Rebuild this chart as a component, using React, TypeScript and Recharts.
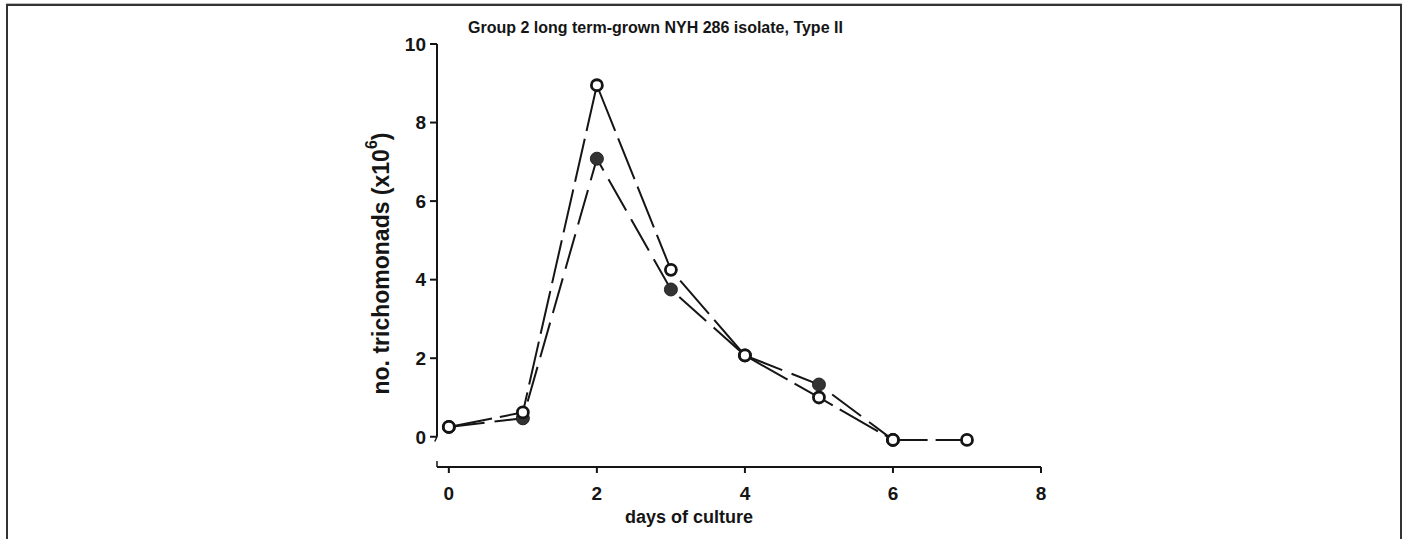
import React from 'react';
import { LineChart, Line, XAxis, YAxis, ReferenceLine } from 'recharts';

const days = [0, 1, 2, 3, 4, 5, 6, 7];
const openValues = [0.25, 0.62, 8.95, 4.25, 2.07, 1.0, -0.08, -0.08];
const filledValues: (number | null)[] = [0.25, 0.47, 7.08, 3.75, 2.07, 1.33, -0.08, null];
const xTicks = [0, 2, 4, 6, 8];
const yTicks = [0, 2, 4, 6, 8, 10];
const X_MIN = -0.16;
const Y_MIN = -0.77;

const data = days.map((d, i) => ({ day: d, open: openValues[i], filled: filledValues[i] }));

const FONT = '"Liberation Sans", Arial, sans-serif';
const INK = '#151515';

const YLabel = (props: any) => {
  const vb = props.viewBox || {};
  const cx = vb.x + 4;
  const cy = vb.y + vb.height / 2 + 8;
  return (
    <text
      x={cx}
      y={cy}
      transform={`rotate(-90, ${cx}, ${cy})`}
      textAnchor="middle"
      dominantBaseline="central"
      fontFamily={FONT}
      fontWeight="bold"
      fontSize={23}
      fill={INK}
    >
      no. trichomonads (x10
      <tspan dy={-10} fontSize={16}>6</tspan>
      <tspan dy={10}>)</tspan>
    </text>
  );
};

const XLabel = (props: any) => {
  const vb = props.viewBox || {};
  const cx = vb.x + vb.width / 2 - 50;
  const cy = vb.y + 56;
  return (
    <text x={cx} y={cy} textAnchor="middle" fontFamily={FONT} fontWeight="bold" fontSize={18} fill={INK}>
      days of culture
    </text>
  );
};

export default function App() {
  return (
    <div style={{ position: 'absolute', left: 0, top: 0, width: 1404, height: 539, background: '#fff', overflow: 'hidden' }}>
      <div style={{ position: 'absolute', left: 6, top: 3, width: 1396, height: 1, background: '#bdbdbd' }} />
      <div
        style={{
          position: 'absolute',
          left: 6,
          top: 4,
          width: 1392,
          height: 600,
          borderTop: '2px solid #333',
          borderLeft: '2px solid #333',
          borderRight: '2px solid #333',
        }}
      />
      <div
        style={{
          position: 'absolute',
          left: 468,
          top: 19,
          fontFamily: FONT,
          fontWeight: 'bold',
          fontSize: 16,
          color: INK,
          whiteSpace: 'nowrap',
        }}
      >
        Group 2 long term-grown NYH 286 isolate, Type II
      </div>
      <div style={{ position: 'absolute', left: 0, top: 0 }}>
        <LineChart width={1404} height={539} data={data} margin={{ top: 44, right: 363, bottom: 12, left: 377 }}>
          <XAxis
            dataKey="day"
            type="number"
            domain={[X_MIN, 8]}
            ticks={xTicks}
            allowDataOverflow
            height={60}
            tick={{ fontSize: 19, fontWeight: 'bold', fill: INK, fontFamily: FONT }}
            axisLine={{ stroke: INK, strokeWidth: 2 }}
            tickLine={{ stroke: INK, strokeWidth: 2 }}
            tickSize={6}
            tickMargin={14}
            label={<XLabel />}
          />
          <YAxis
            type="number"
            domain={[Y_MIN, 10]}
            ticks={yTicks}
            allowDataOverflow
            width={60}
            axisLine={false}
            tick={{ fontSize: 19, fontWeight: 'bold', fill: INK, fontFamily: FONT }}
            tickLine={{ stroke: INK, strokeWidth: 2 }}
            tickSize={7}
            tickMargin={4}
            label={<YLabel />}
          />
          <ReferenceLine
            segment={[
              { x: X_MIN, y: 0 },
              { x: X_MIN, y: 10 },
            ]}
            stroke={INK}
            strokeWidth={2}
            ifOverflow="visible"
          />
          <ReferenceLine
            segment={[
              { x: X_MIN, y: 0 },
              { x: X_MIN - 0.03, y: -0.12 },
            ]}
            stroke={INK}
            strokeWidth={1.5}
            ifOverflow="visible"
          />
          <ReferenceLine
            segment={[
              { x: X_MIN, y: Y_MIN },
              { x: X_MIN, y: Y_MIN + 0.15 },
            ]}
            stroke={INK}
            strokeWidth={1.5}
            ifOverflow="visible"
          />
          <Line
            dataKey="filled"
            type="linear"
            stroke={INK}
            strokeWidth={2}
            strokeDasharray="36 10"
            isAnimationActive={false}
            connectNulls={false}
            dot={{ r: 6.5, fill: '#333', stroke: '#222', strokeWidth: 1, strokeDasharray: 'none' }}
            activeDot={false}
          />
          <Line
            dataKey="open"
            type="linear"
            stroke={INK}
            strokeWidth={2}
            strokeDasharray="44 8"
            isAnimationActive={false}
            dot={{ r: 5.5, fill: '#fff', stroke: INK, strokeWidth: 2.8, strokeDasharray: 'none' }}
            activeDot={false}
          />
        </LineChart>
      </div>
    </div>
  );
}
